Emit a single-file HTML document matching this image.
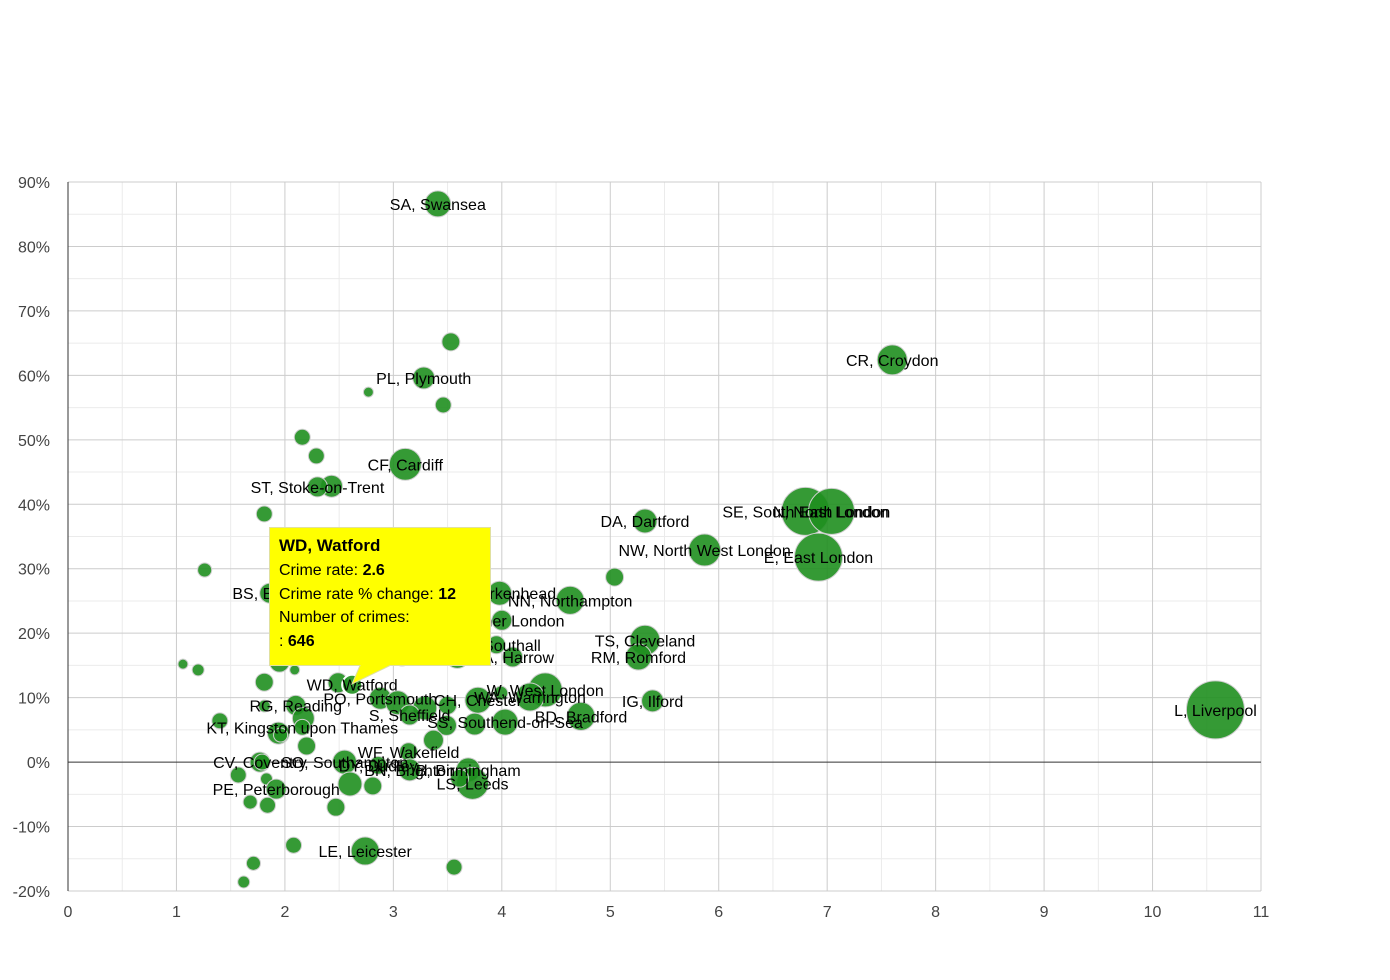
<!DOCTYPE html>
<html><head><meta charset="utf-8"><style>
body{margin:0;background:#fff;}
svg{display:block;font-family:"Liberation Sans",Arial,sans-serif;}
</style></head><body>
<svg id="chart" width="1390" height="980" viewBox="0 0 1390 980"></svg>
<script>
const labels=["SA, Swansea","","PL, Plymouth","","","CR, Croydon","","","CF, Cardiff","","ST, Stoke-on-Trent","","DA, Dartford","SE, South East London","N, North London","E, East London","NW, North West London","","","BS, Bristol","CH, Birkenhead","NN, Northampton","EC, Inner London","UB, Southall","HA, Harrow","TS, Cleveland","RM, Romford","","","","","","","","","","WD, Watford","W, West London","CH, Chester","WA, Warrington","","PO, Portsmouth","","","","IG, Ilford","RG, Reading","","","BD, Bradford","S, Sheffield","SS, Southend-on-Sea","","","L, Liverpool","","KT, Kingston upon Thames","","","","","WF, Wakefield","SO, Southampton","CV, Coventry","","BN, Brighton","B, Birmingham","DY, Dudley","","","PE, Peterborough","","","LS, Leeds","","","","","LE, Leicester","","","",""];
const crimeRate=[3.41,3.53,3.28,2.77,3.46,7.6,2.16,2.29,3.11,2.43,2.30,1.81,5.32,6.8,7.04,6.92,5.87,5.04,1.26,1.86,3.98,4.63,4.0,3.95,4.1,5.32,5.26,3.59,3.08,1.95,2.09,1.06,1.2,2.09,1.81,2.49,2.62,4.4,3.78,4.26,3.99,2.88,3.04,3.29,3.5,5.39,2.1,1.81,2.17,4.73,3.15,4.03,3.75,3.49,10.58,1.4,2.16,1.94,1.96,3.37,2.2,3.14,2.55,1.77,1.79,3.15,3.69,2.86,1.57,1.83,1.92,2.6,2.81,3.73,3.61,1.68,1.84,2.47,2.74,2.08,3.56,1.71,1.62];
const rateChange=[86.6,65.2,59.6,57.4,55.4,62.4,50.4,47.5,46.2,42.8,42.7,38.5,37.4,38.9,38.9,31.8,32.9,28.7,29.8,26.2,26.2,25.1,22,18.2,16.3,18.9,16.3,16.4,16.3,15.5,16.3,15.2,14.3,14.3,12.4,12.3,12,11.2,9.6,10.1,10.7,9.9,9.2,8.4,8.8,9.5,8.8,8.7,6.8,7.1,7.3,6.2,5.9,5.7,8.1,6.4,5.4,4.5,4.2,3.4,2.5,1.6,0,0,0,-1.2,-1.2,-0.5,-2,-2.6,-4.2,-3.4,-3.7,-3.3,-2.5,-6.2,-6.7,-7,-13.8,-12.9,-16.3,-15.7,-18.6];
const crimes=[1090,520,780,160,410,1450,410,410,1650,780,646,410,930,3720,3420,3720,1650,520,320,646,930,1270,646,520,646,1450,1090,930,520,646,410,160,230,160,520,646,646,1870,1090,1270,320,780,930,930,520,780,646,230,780,1270,646,1090,780,646,5430,410,410,780,320,646,520,520,930,646,410,780,930,520,410,230,646,930,520,1650,520,320,410,520,1270,410,410,320,230];
const xTicks=[0,1,2,3,4,5,6,7,8,9,10,11];
const yTicks=[-20,-10,0,10,20,30,40,50,60,70,80,90];

const NS="http://www.w3.org/2000/svg";
const svg=document.getElementById('chart');
const L=68,R=1261,T=182,B=891;
const xS=v=>L+(v-0)/(11-0)*(R-L);
const yS=v=>B-(v+20)/(110)*(B-T);
function mk(tag,attrs,parent){const e=document.createElementNS(NS,tag);for(const k in attrs)e.setAttribute(k,attrs[k]);(parent||svg).appendChild(e);return e;}
const grid=mk('g',{});


for(let v=0.5;v<11;v+=1){mk('line',{x1:xS(v),x2:xS(v),y1:T,y2:B,stroke:'#ebebeb'},grid);}
for(let v=-15;v<90;v+=10){mk('line',{x1:L,x2:R,y1:yS(v),y2:yS(v),stroke:'#ebebeb'},grid);}
xTicks.forEach(v=>{if(v>0)mk('line',{x1:xS(v),x2:xS(v),y1:T,y2:B,stroke:'#cccccc'},grid);
 const t=mk('text',{x:xS(v),y:B+26,'text-anchor':'middle','font-size':16,fill:'#444'});t.textContent=v;
 
 });
yTicks.forEach(v=>{mk('line',{x1:L,x2:R,y1:yS(v),y2:yS(v),stroke:v===0?'#333':'#cccccc'},grid);
 const t=mk('text',{x:50,y:yS(v)+6,'text-anchor':'end','font-size':16,fill:'#444'});t.textContent=v+'%';
 
 });
const ax=mk('line',{x1:L,x2:L,y1:T,y2:B,stroke:'#333'});


const k=10/Math.sqrt(646);
const bub=mk('g',{});
crimeRate.forEach((x,i)=>{
 const c=mk('circle',{cx:xS(x),cy:yS(rateChange[i]),r:k*Math.sqrt(crimes[i]),fill:'#1f8f1f','fill-opacity':0.9,stroke:labels[i]==='WD, Watford'?'#fff':'#cfcfcf','stroke-width':labels[i]==='WD, Watford'?2:1},bub);
 
 
});
crimeRate.forEach((x,i)=>{
 if(!labels[i])return;
 const t=mk('text',{x:xS(x),y:yS(rateChange[i])+6,'text-anchor':'middle','font-size':16,fill:'#000'});
 t.textContent=labels[i];
 
 
});
</script>
<svg style="position:absolute;left:0;top:0" width="1390" height="980">
<path d="M269.5,527.5 H490.5 V665.5 H390 L352,684 L360,665.5 H269.5 Z" fill="#ffff00" stroke="#e0e0a0"/>
<text x="279" y="551" font-size="17" font-weight="bold" font-family="Liberation Sans,Arial,sans-serif">WD, Watford</text>
<text x="279" y="575" font-size="16" font-family="Liberation Sans,Arial,sans-serif">Crime rate: <tspan font-weight="bold">2.6</tspan></text>
<text x="279" y="599" font-size="16" font-family="Liberation Sans,Arial,sans-serif">Crime rate % change: <tspan font-weight="bold">12</tspan></text>
<text x="279" y="622" font-size="16" font-family="Liberation Sans,Arial,sans-serif">Number of crimes:</text>
<text x="279" y="646" font-size="16" font-family="Liberation Sans,Arial,sans-serif">: <tspan font-weight="bold">646</tspan></text>
</svg>
</body></html>
